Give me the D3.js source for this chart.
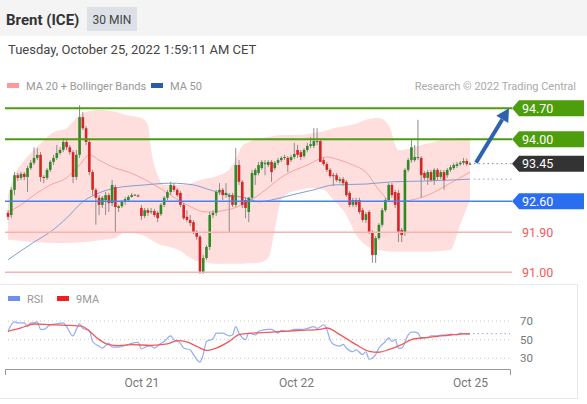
<!DOCTYPE html>
<html>
<head>
<meta charset="utf-8">
<script src="https://cdn.jsdelivr.net/npm/d3@7"></script>
<style>
  body { margin: 0; background: #fff; font-family: Roboto, Arial, sans-serif; }
</style>
</head>
<body>
<svg width="587" height="404"></svg>
<script>
// 30 min candles, [open, high, low, close]
var candles = [
  [92.34,92.40,92.18,92.25],[92.29,92.92,92.22,92.86],[92.86,93.26,92.74,93.19],[93.19,93.24,93.06,93.13],
  [93.13,93.26,93.08,93.22],[93.22,93.26,93.08,93.15],[93.15,93.40,92.81,93.35],[93.35,93.53,93.31,93.47],
  [93.47,93.82,93.42,93.58],[93.58,93.80,93.53,93.65],[93.65,93.71,93.04,93.15],[93.15,93.19,93.01,93.13],
  [93.13,93.35,93.08,93.31],[93.31,93.53,93.26,93.49],[93.49,93.65,93.42,93.58],[93.58,93.87,93.53,93.69],
  [93.69,93.82,93.65,93.76],[93.76,94.03,93.71,93.94],[93.94,93.98,93.76,93.82],[93.82,93.87,93.65,93.71],
  [93.71,93.76,93.01,93.15],[93.15,93.76,93.08,93.65],[93.65,94.77,93.58,94.50],[94.50,94.62,94.21,94.25],
  [94.25,94.30,93.87,93.94],[93.94,93.98,93.19,93.26],[93.26,93.31,92.74,92.86],[92.86,92.90,92.07,92.68],
  [92.68,92.74,92.29,92.52],[92.52,92.72,92.45,92.68],[92.63,92.81,92.29,92.74],[92.74,92.79,92.36,92.56],
  [92.56,93.08,92.49,92.97],[92.92,92.97,91.91,92.47],[92.45,92.52,92.36,92.49],[92.49,92.63,92.45,92.59],
  [92.59,92.70,92.52,92.65],[92.63,92.74,92.59,92.70],[92.70,92.79,92.68,92.74],[92.74,92.76,92.72,92.75],
  [92.73,92.76,92.70,92.72],[92.45,92.52,92.18,92.27],[92.27,92.45,92.22,92.40],[92.40,92.45,92.27,92.34],
  [92.36,92.45,92.31,92.38],[92.38,92.43,92.25,92.29],[92.34,92.38,92.13,92.22],[92.31,92.56,92.27,92.52],
  [92.52,92.72,92.47,92.68],[92.68,92.86,92.63,92.81],[92.81,93.04,92.74,92.97],[92.95,93.01,92.81,92.86],
  [92.86,92.90,92.70,92.74],[92.79,92.83,92.47,92.52],[92.52,92.56,92.18,92.22],[92.25,92.40,92.13,92.18],
  [92.18,92.29,92.04,92.11],[92.13,92.18,91.86,91.91],[91.91,91.95,91.73,91.80],[91.80,91.84,90.96,91.01],
  [91.01,91.39,90.96,91.32],[91.32,91.61,91.28,91.57],[91.57,92.36,91.50,92.29],[92.29,92.40,92.22,92.34],
  [92.34,92.86,92.27,92.81],[92.81,93.01,92.74,92.86],[92.86,92.90,92.63,92.74],[92.74,93.01,92.68,92.79],
  [92.70,92.79,91.89,92.74],[92.74,92.79,92.47,92.52],[92.52,93.80,92.47,93.42],[93.42,93.53,92.97,93.04],
  [93.04,93.08,92.45,92.52],[92.63,92.68,92.22,92.45],[92.36,92.70,92.13,92.68],[92.68,93.31,92.63,93.24],
  [93.19,93.35,92.97,93.31],[93.24,93.49,93.19,93.42],[93.35,93.53,93.31,93.49],[93.44,93.53,93.19,93.47],
  [93.42,93.53,93.37,93.49],[93.49,93.53,93.04,93.26],[93.35,93.51,93.31,93.47],[93.47,93.58,93.42,93.53],
  [93.53,93.62,93.49,93.58],[93.58,93.65,93.53,93.60],[93.58,93.62,93.26,93.42],[93.53,93.65,93.49,93.60],
  [93.60,93.92,93.56,93.67],[93.76,93.87,93.58,93.65],[93.71,93.76,93.53,93.60],[93.62,93.80,93.58,93.76],
  [93.76,93.92,93.71,93.85],[93.85,94.05,93.80,93.89],[93.85,94.25,93.80,93.96],[93.94,94.25,93.87,93.96],
  [93.96,94.00,93.49,93.49],[93.53,93.58,93.40,93.44],[93.44,93.49,93.26,93.31],[93.31,93.35,93.13,93.17],
  [93.19,93.24,92.95,93.17],[93.19,93.24,93.04,93.08],[93.06,93.15,93.01,93.10],[93.10,93.15,92.95,93.01],
  [93.04,93.08,92.70,92.74],[92.79,92.83,92.47,92.52],[92.52,92.68,92.47,92.63],[92.63,92.68,92.47,92.52],
  [92.63,92.68,92.31,92.36],[92.40,92.45,92.13,92.18],[92.18,92.36,92.11,92.31],[92.36,92.40,91.86,91.91],
  [91.91,91.95,91.21,91.39],[91.39,91.82,91.21,91.77],[91.77,92.11,91.73,92.07],[92.07,92.45,92.02,92.40],
  [92.40,92.68,92.36,92.63],[92.63,93.01,92.59,92.97],[92.97,93.01,92.68,92.74],[92.81,92.86,92.45,92.52],
  [92.79,92.86,91.68,91.91],[91.95,92.00,91.68,91.84],[91.89,93.35,91.82,93.31],[93.31,93.58,93.26,93.53],
  [93.53,93.98,93.47,93.82],[93.53,93.87,93.49,93.60],[93.58,94.44,93.53,93.60],[93.58,93.62,92.68,93.19],
  [93.24,93.28,93.08,93.13],[93.13,93.31,92.97,93.26],[93.26,93.31,93.04,93.08],[93.08,93.35,92.97,93.31],
  [93.31,93.35,93.08,93.15],[93.15,93.31,93.10,93.26],[93.26,93.31,92.86,93.08],[93.19,93.35,93.13,93.31],
  [93.31,93.42,93.26,93.37],[93.35,93.47,93.31,93.42],[93.40,93.49,93.35,93.44],[93.44,93.51,93.40,93.47],
  [93.47,93.58,93.42,93.51],[93.51,93.56,93.40,93.44],[93.44,93.49,93.42,93.45]
];

// Bollinger bands (20) read at these candle positions
var bandIdx   = [0,2,5,8,11,14,18,21,24,28,33,36,41,43,44,46,48,53,56,59,65,68,70,72,74,77,80,82,84,87,90,93,97,100,104,107,110,114,117,120,124,127,130,133,136,139,142];
var bandUpper = [92.74,93.19,93.53,93.76,93.98,94.16,94.25,94.48,94.62,94.66,94.62,94.55,94.48,94.32,93.76,93.19,92.97,92.97,93.00,93.08,93.19,93.31,93.55,93.85,93.94,94.00,94.05,94.08,94.10,94.10,94.10,94.13,94.18,94.25,94.30,94.35,94.44,94.48,94.32,93.76,93.80,93.87,93.92,93.98,94.00,94.03,94.03];
var bandLower = [91.73,91.72,91.70,91.68,91.67,91.66,91.66,91.67,91.68,91.72,91.77,91.91,91.84,91.78,91.73,91.65,91.60,91.48,91.32,91.23,91.19,91.19,91.19,91.19,91.20,91.21,91.32,91.95,92.63,92.81,92.86,92.90,92.86,92.63,92.29,91.84,91.61,91.50,91.47,91.46,91.46,91.46,91.46,91.48,91.50,92.07,92.63];

var ma20 = [[0,92.36],[4,92.52],[8,92.74],[13,92.97],[18,93.13],[22,93.42],[25,93.65],[28,93.53],[33,93.35],[37,93.26],[45,92.97],[50,92.74],[55,92.52],[61,92.36],[67,92.40],[73,92.56],[77,92.74],[85,93.19],[92,93.42],[98,93.60],[102,93.53],[106,93.42],[110,93.26],[114,92.86],[118,92.59],[124,92.63],[129,92.74],[135,92.97],[142,93.26]];
var ma50 = [[0,91.28],[8,91.68],[13,91.91],[18,92.22],[23,92.59],[28,92.79],[33,92.90],[42,92.97],[50,93.01],[57,92.97],[62,92.86],[68,92.74],[73,92.68],[77,92.59],[81,92.63],[87,92.74],[94,92.86],[100,92.97],[110,92.99],[118,93.04],[129,93.06],[142,93.10]];

var rsi = [[0,59],[2,69],[3,68],[5,68],[6,64],[7,68],[8,68],[9,69],[10,61],[11,61],[13,66],[15,67],[17,68],[18,64],[20,54],[21,61],[22,67],[23,62],[25,60],[26,48],[28,43],[29,41],[31,46],[32,42],[34,42],[37,45],[38,46],[40,47],[41,40],[43,43],[44,43],[45,41],[47,46],[48,48],[50,54],[51,50],[53,46],[54,41],[56,39],[57,34],[59,26],[60,34],[61,48],[63,51],[64,57],[66,57],[68,54],[69,55],[70,64],[71,57],[73,50],[74,57],[76,55],[77,59],[80,61],[81,61],[83,57],[84,60],[86,59],[88,61],[90,61],[92,62],[94,64],[95,62],[97,66],[98,61],[99,50],[100,45],[102,43],[103,45],[104,41],[106,37],[107,39],[109,34],[110,37],[111,29],[113,34],[114,41],[116,48],[117,52],[118,48],[119,50],[120,41],[121,41],[123,55],[124,58],[125,58],[126,57],[127,52],[129,52],[130,54],[132,54],[133,55],[135,55],[136,56],[138,55],[139,57],[141,56],[142,56]];
var rsiMa = [[0,59],[4,62.5],[8,66.8],[13,66],[18,65.4],[23,64],[25,59],[28,50],[31,44.6],[34,43.6],[38,44.6],[44,43.9],[49,45.4],[52,48.9],[55,47.5],[58,42.8],[61,38.5],[64,41],[68,48.2],[71,55.4],[75,57],[80,57.8],[85,58.9],[89,59.8],[96,61],[98,62.5],[102,55.4],[107,44.6],[111,37.5],[114,36.5],[117,39.3],[121,44.6],[124,50],[129,52.5],[132,53.6],[136,55],[142,56.4]];

var resistances = [94.70, 94.00];
var lastPrice = 93.45;
var supports = [92.60, 91.90, 91.00];
var rsiLevels = [70, 50, 30];
var tickIdx = [41, 88.5, 142];
var tickLabels = ["Oct 21", "Oct 22", "Oct 25"];

var svg = d3.select("svg");
var x = d3.scaleLinear().domain([0, 142]).range([8, 470]);
var y = d3.scaleLinear().domain([91, 94.7]).range([272.2, 108.3]);
var yr = d3.scaleLinear().domain([30, 70]).range([358.3, 321]);
var lineEnd = 512;

// header
svg.append("rect").attr("width", 587).attr("height", 36).attr("fill", "#f4f4f4");
svg.append("text").attr("x", 6).attr("y", 25).text("Brent (ICE)")
    .attr("font-size", 15).attr("font-weight", "bold").attr("fill", "#333");
svg.append("rect").attr("x", 87).attr("y", 7).attr("width", 50).attr("height", 24).attr("fill", "#dde1e7");
svg.append("text").attr("x", 112).attr("y", 23.5).attr("text-anchor", "middle").text("30 MIN")
    .attr("font-size", 12).attr("fill", "#444");
svg.append("text").attr("x", 8).attr("y", 54).text("Tuesday, October 25, 2022 1:59:11 AM CET")
    .attr("font-size", 13).attr("fill", "#444");

// legend
function legendItem(lx, ly, color, label, w) {
    svg.append("rect").attr("x", lx).attr("y", ly - 3).attr("width", w).attr("height", 5).attr("fill", color);
    svg.append("text").attr("x", lx + w + 7).attr("y", ly + 4).text(label)
        .attr("font-size", 11).attr("fill", "#999");
}
legendItem(7, 86, "#f99", "MA 20 + Bollinger Bands", 12);
legendItem(151, 86, "#2d5ca6", "MA 50", 12);
svg.append("text").attr("x", 576).attr("y", 90).attr("text-anchor", "end")
    .text("Research \u00a9 2022 Trading Central").attr("font-size", 11).attr("fill", "#aaa");

// bollinger band fill
var band = bandIdx.map(function (i, k) { return [i, bandUpper[k], bandLower[k]]; });
svg.append("path").datum(band)
    .attr("d", d3.area().x(function (d) { return x(d[0]); })
        .y0(function (d) { return y(d[2]); }).y1(function (d) { return y(d[1]); })
        .curve(d3.curveMonotoneX))
    .attr("fill", "#ffdede");

var lineGen = function (sc) {
    return d3.line().x(function (d) { return x(d[0]); }).y(function (d) { return sc(d[1]); }).curve(d3.curveMonotoneX);
};
svg.append("path").datum(ma20).attr("d", lineGen(y)).attr("fill", "none").attr("stroke", "#f6a3a3").attr("stroke-width", 1);
svg.append("path").datum(ma50).attr("d", lineGen(y)).attr("fill", "none").attr("stroke", "#7f9fd6").attr("stroke-width", 1);

// candles
var cg = svg.append("g");
cg.selectAll("line").data(candles).enter().append("line")
    .attr("x1", function (d, i) { return x(i); }).attr("x2", function (d, i) { return x(i); })
    .attr("y1", function (d) { return y(d[1]); }).attr("y2", function (d) { return y(d[2]); })
    .attr("stroke", "#8c8c8c").attr("stroke-width", 1);
cg.selectAll("rect").data(candles).enter().append("rect")
    .attr("x", function (d, i) { return x(i) - 1.3; })
    .attr("width", 2.6)
    .attr("y", function (d) { return y(Math.max(d[0], d[3])); })
    .attr("height", function (d) { return Math.max(1, Math.abs(y(d[0]) - y(d[3]))); })
    .attr("fill", function (d) { return d[3] >= d[0] ? "#2f8a26" : "#d62525"; });

// level lines
svg.selectAll(".res").data(resistances).enter().append("line")
    .attr("x1", 5).attr("x2", lineEnd).attr("y1", function (d) { return y(d); }).attr("y2", function (d) { return y(d); })
    .attr("stroke", "#4e9d0c").attr("stroke-width", 2);
svg.append("line").attr("x1", 5).attr("x2", lineEnd).attr("y1", y(supports[0])).attr("y2", y(supports[0]))
    .attr("stroke", "#4f80ea").attr("stroke-width", 1.6);
svg.selectAll(".sup").data(supports.slice(1)).enter().append("line")
    .attr("x1", 5).attr("x2", lineEnd).attr("y1", function (d) { return y(d); }).attr("y2", function (d) { return y(d); })
    .attr("stroke", "#fbb0b0").attr("stroke-width", 1.5);
svg.append("line").attr("x1", x(142) + 4).attr("x2", lineEnd).attr("y1", y(lastPrice)).attr("y2", y(lastPrice))
    .attr("stroke", "#888").attr("stroke-dasharray", "1.5,3");
svg.append("line").attr("x1", x(142) + 4).attr("x2", lineEnd).attr("y1", y(ma50[ma50.length - 1][1])).attr("y2", y(ma50[ma50.length - 1][1]))
    .attr("stroke", "#8fa7dd").attr("stroke-dasharray", "1.5,3");

// price tags
function tag(v, color) {
    var ty = y(v);
    svg.append("path").attr("d", "M" + lineEnd + "," + ty + "L" + (lineEnd + 7) + "," + (ty - 8) + "L584," + (ty - 8) + "L584," + (ty + 8) + "L" + (lineEnd + 7) + "," + (ty + 8) + "Z")
        .attr("fill", color);
    svg.append("text").attr("x", 522).attr("y", ty + 4.5).text(v.toFixed(2)).attr("font-size", 12.5).attr("fill", "#fff");
}
tag(resistances[0], "#4e9d0c");
tag(resistances[1], "#4e9d0c");
tag(lastPrice, "#333");
tag(supports[0], "#2a6ef0");
supports.slice(1).forEach(function (v) {
    svg.append("text").attr("x", 522).attr("y", y(v) + 4.5).text(v.toFixed(2)).attr("font-size", 12.5).attr("fill", "#f45a5a");
});

// forecast arrow
var ax0 = x(142) + 6, ay0 = y(lastPrice) - 1, ax1 = 509, ay1 = y(resistances[0]);
var dx = ax1 - ax0, dy = ay1 - ay0, len = Math.sqrt(dx * dx + dy * dy), ux = dx / len, uy = dy / len;
var bx = ax1 - ux * 13, by = ay1 - uy * 13;
svg.append("line").attr("x1", ax0).attr("y1", ay0).attr("x2", bx).attr("y2", by)
    .attr("stroke", "#2f62ad").attr("stroke-width", 4);
svg.append("path").attr("d", "M" + ax1 + "," + ay1 + "L" + (bx - uy * 7) + "," + (by + ux * 7) + "L" + (bx + uy * 7) + "," + (by - ux * 7) + "Z")
    .attr("fill", "#2f62ad");

// RSI panel
svg.append("line").attr("x1", 0).attr("x2", 578).attr("y1", 284.5).attr("y2", 284.5).attr("stroke", "#e6e9ee");
svg.append("line").attr("x1", 0).attr("x2", 578).attr("y1", 398.5).attr("y2", 398.5).attr("stroke", "#e6e9ee");
svg.append("line").attr("x1", 577.5).attr("x2", 577.5).attr("y1", 284).attr("y2", 399).attr("stroke", "#e6e9ee");
legendItem(8, 299, "#6f8ff0", "RSI", 12);
legendItem(57, 299, "#f21d1d", "9MA", 12);

svg.selectAll(".rl").data(rsiLevels).enter().append("line")
    .attr("x1", 8).attr("x2", 510).attr("y1", function (d) { return yr(d); }).attr("y2", function (d) { return yr(d); })
    .attr("stroke", "#c8c8c8").attr("stroke-dasharray", "1,3");
svg.selectAll(".rt").data(rsiLevels).enter().append("text")
    .attr("x", 520).attr("y", function (d) { return yr(d) + 4; }).text(function (d) { return d; })
    .attr("font-size", 11.5).attr("fill", "#777");

svg.append("line").attr("x1", x(142) + 3).attr("x2", 510).attr("y1", yr(56.4)).attr("y2", yr(56.4))
    .attr("stroke", "#8fa9f0").attr("stroke-dasharray", "1.5,3");
svg.append("path").datum(rsi).attr("d", lineGen(yr)).attr("fill", "none").attr("stroke", "#94acf2").attr("stroke-width", 1.2);
svg.append("path").datum(rsiMa).attr("d", lineGen(yr)).attr("fill", "none").attr("stroke", "#f05a5a").attr("stroke-width", 1.3);

// x axis
var axis = d3.axisBottom(x).tickValues(tickIdx).tickFormat(function (d, i) { return tickLabels[i]; }).tickSize(0).tickPadding(9);
var ag = svg.append("g").attr("transform", "translate(0,369)").call(axis);
ag.select(".domain").attr("d", "M5.5,6V0.5H510.5V6").attr("stroke", "#999");
ag.selectAll("text").attr("font-size", 12).attr("fill", "#777").attr("font-family", "Roboto, Arial, sans-serif");
</script>
</body>
</html>
